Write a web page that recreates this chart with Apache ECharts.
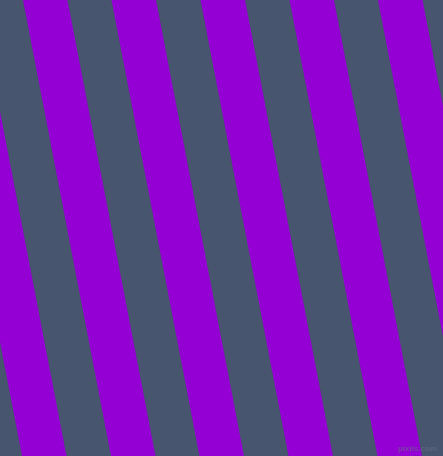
<!DOCTYPE html>
<html>
<head>
<meta charset="utf-8">
<script src="https://cdn.jsdelivr.net/npm/echarts@6/dist/echarts.min.js"></script>
<style>
html,body{margin:0;padding:0;background:#48556e;}
#c{width:443px;height:456px;}
</style>
</head>
<body>
<div id="c"></div>
<script>
// Left edge (x at top) of each purple stripe, in axis units
var stripeTopX = [-155, -66, 23, 111.5, 200.5, 289.5, 378, 467];
var stripeWidth = [44.5, 44.5, 44.5, 44.5, 44.5, 44.5, 44.5, 44.5];
var stripeShift = [88, 88, 88, 88, 88, 88, 88, 88];
var watermark = 'pixlis.com';

var data = stripeTopX.map(function (x, i) { return [x, stripeWidth[i], stripeShift[i]]; });

var chart = echarts.init(document.getElementById('c'));
chart.setOption({
  backgroundColor: '#48556e',
  animation: false,
  grid: { left: 0, right: 0, top: 0, bottom: 0 },
  xAxis: { type: 'value', min: 0, max: 443, show: false },
  yAxis: { type: 'value', min: 0, max: 456, show: false },
  graphic: [{
    type: 'text', right: 6, bottom: 3, z: 100,
    style: { text: watermark, fill: 'rgba(105,110,135,0.6)', font: 'bold 8px "Liberation Sans"' }
  }],
  series: [{
    type: 'custom',
    clip: true,
    data: data,
    renderItem: function (params, api) {
      var x = api.value(0), w = api.value(1), s = api.value(2);
      var p1 = api.coord([x, 456]);
      var p2 = api.coord([x + w, 456]);
      var p3 = api.coord([x + w + s, 0]);
      var p4 = api.coord([x + s, 0]);
      return {
        type: 'polygon',
        shape: { points: [p1, p2, p3, p4] },
        style: { fill: '#9400d3' }
      };
    }
  }]
});
</script>
</body>
</html>
